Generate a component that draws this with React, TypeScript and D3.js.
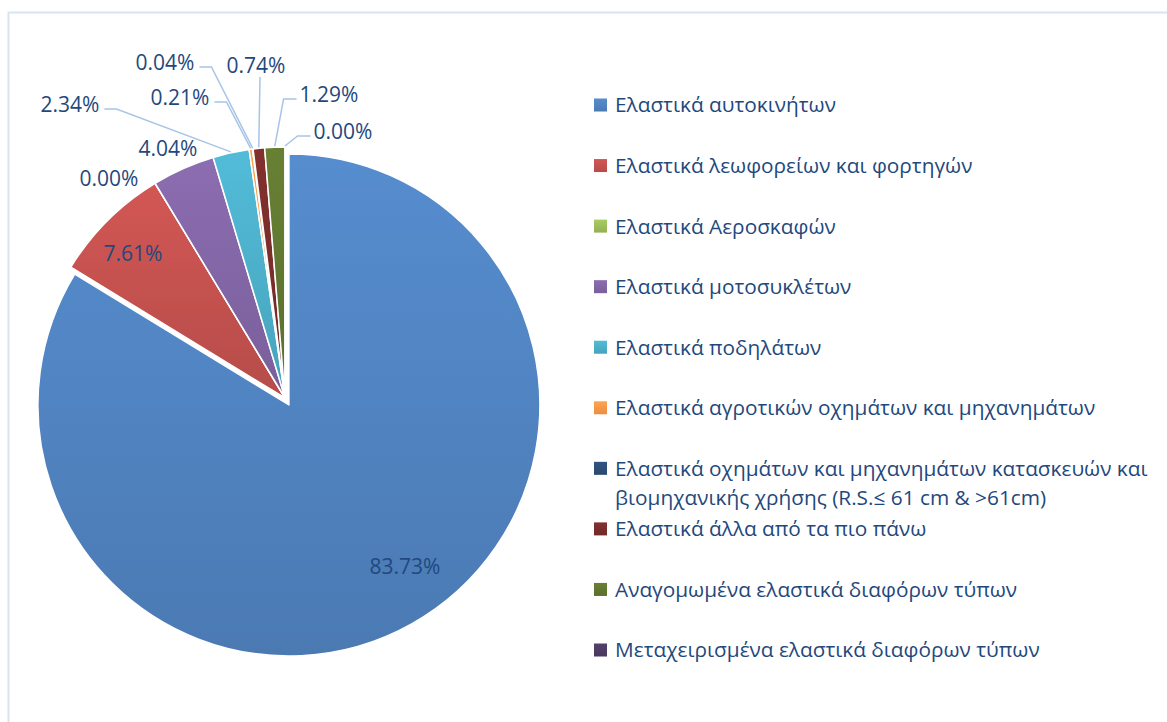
import React, { useEffect, useRef } from "react";
import * as d3 from "d3";

const categories = [
  "Ελαστικά αυτοκινήτων",
  "Ελαστικά λεωφορείων και φορτηγών",
  "Ελαστικά Αεροσκαφών",
  "Ελαστικά μοτοσυκλέτων",
  "Ελαστικά ποδηλάτων",
  "Ελαστικά αγροτικών οχημάτων και μηχανημάτων",
  "Ελαστικά οχημάτων και μηχανημάτων κατασκευών και βιομηχανικής χρήσης (R.S.≤ 61 cm & >61cm)",
  "Ελαστικά άλλα από τα πιο πάνω",
  "Αναγομωμένα ελαστικά διαφόρων τύπων",
  "Μεταχειρισμένα ελαστικά διαφόρων τύπων",
];

// share of each category, percent
const shares = [83.73, 7.61, 0, 4.04, 2.34, 0.21, 0.04, 0.74, 1.29, 0];

const colors = [
  "#4F81BD",
  "#C0504D",
  "#9BBB59",
  "#8064A2",
  "#4BACC6",
  "#F79646",
  "#2C4D75",
  "#772C2A",
  "#5F7530",
  "#4D3B62",
];

// label placement relative to the pie centre, and how the callout line attaches
const labelLayout: { dx: number; dy: number; leader: string | null }[] = [
  { dx: 120, dy: 168, leader: null },
  { dx: -152, dy: -145, leader: null },
  { dx: -176, dy: -220, leader: null },
  { dx: -117, dy: -250, leader: null },
  { dx: -215, dy: -294, leader: "right" },
  { dx: -105, dy: -301, leader: "right" },
  { dx: -120, dy: -336, leader: "right" },
  { dx: -29, dy: -333, leader: "bottom" },
  { dx: 44, dy: -304, leader: "left" },
  { dx: 58, dy: -267, leader: "left" },
];

const explode = [8, 0, 0, 0, 0, 0, 0, 0, 0, 0];

function App() {
  const svgRef = useRef<SVGSVGElement>(null);

  useEffect(() => {
    const W = 1167;
    const H = 722;
    const cx = 285;
    const cy = 398;
    const R = 251;
    const font = "'Open Sans', 'Noto Sans', sans-serif";
    const textColor = "#1F497D";

    const svg = d3.select(svgRef.current);
    svg.selectAll("*").remove();
    svg.attr("width", W).attr("height", H);

    const defs = svg.append("defs");
    colors.forEach((c, i) => {
      const grad = defs
        .append("linearGradient")
        .attr("id", `grad${i}`)
        .attr("x1", 0)
        .attr("y1", 0)
        .attr("x2", 0)
        .attr("y2", 1);
      grad.append("stop").attr("offset", "0%").attr("stop-color", d3.color(c)!.brighter(0.25).formatHex());
      grad.append("stop").attr("offset", "100%").attr("stop-color", d3.color(c)!.darker(0.15).formatHex());
    });

    svg.append("rect").attr("width", W).attr("height", H).attr("fill", "#fff");
    svg
      .append("rect")
      .attr("x", 8.5)
      .attr("y", 12.5)
      .attr("width", W)
      .attr("height", H)
      .attr("fill", "none")
      .attr("stroke", "#D9E4F3")
      .attr("stroke-width", 2);

    const pie = d3.pie<number>().sort(null).value((d) => d);
    const arcs = pie(shares);
    const arc = d3.arc<d3.PieArcDatum<number>>().innerRadius(0).outerRadius(R);
    const mid = (a: d3.PieArcDatum<number>) => (a.startAngle + a.endAngle) / 2;

    const g = svg.append("g").attr("transform", `translate(${cx},${cy})`);

    g.selectAll("path")
      .data(arcs)
      .enter()
      .append("path")
      .attr("d", arc)
      .attr("transform", (d, i) => {
        const m = mid(d);
        return `translate(${Math.sin(m) * explode[i]},${-Math.cos(m) * explode[i]})`;
      })
      .attr("fill", (d, i) => `url(#grad${i})`)
      .attr("stroke", "#fff")
      .attr("stroke-width", 1.5)
      .attr("stroke-linejoin", "round");

    // data labels
    const fmt = (v: number) => `${v.toFixed(2)}%`;
    const labels = g
      .selectAll("text.lbl")
      .data(arcs)
      .enter()
      .append("text")
      .attr("class", "lbl")
      .attr("x", (d, i) => labelLayout[i].dx)
      .attr("y", (d, i) => labelLayout[i].dy)
      .attr("dy", "0.36em")
      .attr("text-anchor", "middle")
      .style("font-family", font)
      .style("font-size", "21px")
      .attr("fill", textColor)
      .text((d) => fmt(d.data));

    const line = d3.line();
    labels.each(function (d, i) {
      const lay = labelLayout[i];
      if (!lay.leader) return;
      const w = (this as SVGTextElement).getComputedTextLength();
      const m = mid(d);
      const end: [number, number] = [Math.sin(m) * (R + 1), -Math.cos(m) * (R + 1)];
      let pts: [number, number][] = [];
      if (lay.leader === "right") {
        const sx = lay.dx + w / 2 + 5;
        pts = [[sx, lay.dy + 5], [sx + 12, lay.dy + 5], end];
      } else if (lay.leader === "left") {
        const sx = lay.dx - w / 2 - 3;
        pts = [[sx, lay.dy + 5], [sx - 13, lay.dy + 5], end];
      } else {
        pts = [[lay.dx + 4, lay.dy + 12], end];
      }
      g.insert("path", "text")
        .attr("d", line(pts))
        .attr("fill", "none")
        .attr("stroke", "#A7C4E9")
        .attr("stroke-width", 1.5);
    });

    // legend
    const ly = d3.scalePoint<number>().domain(d3.range(categories.length)).range([105, 650]);
    const legend = svg.append("g");
    const maxW = 560;
    categories.forEach((name, i) => {
      const y = ly(i)!;
      legend
        .append("rect")
        .attr("x", 594)
        .attr("y", y - 6.5)
        .attr("width", 13)
        .attr("height", 13)
        .attr("fill", `url(#grad${i})`);
      // word wrap, one text element per line
      const words = name.split(" ");
      let cur: string[] = [];
      let lineNo = 0;
      const newLine = () =>
        legend
          .append("text")
          .attr("x", 615)
          .attr("y", y + lineNo * 29)
          .attr("dy", "0.36em")
          .style("font-family", font)
          .style("font-size", "20.8px")
          .attr("fill", textColor);
      let t = newLine();
      words.forEach((wd) => {
        cur.push(wd);
        t.text(cur.join(" "));
        if ((t.node() as SVGTextContentElement).getComputedTextLength() > maxW && cur.length > 1) {
          cur.pop();
          t.text(cur.join(" "));
          cur = [wd];
          lineNo += 1;
          t = newLine().text(wd);
        }
      });
    });
  }, []);

  return (
    <svg
      ref={svgRef}
      style={{ position: "absolute", left: 0, top: 0, display: "block" }}
    ></svg>
  );
}

export default App;
